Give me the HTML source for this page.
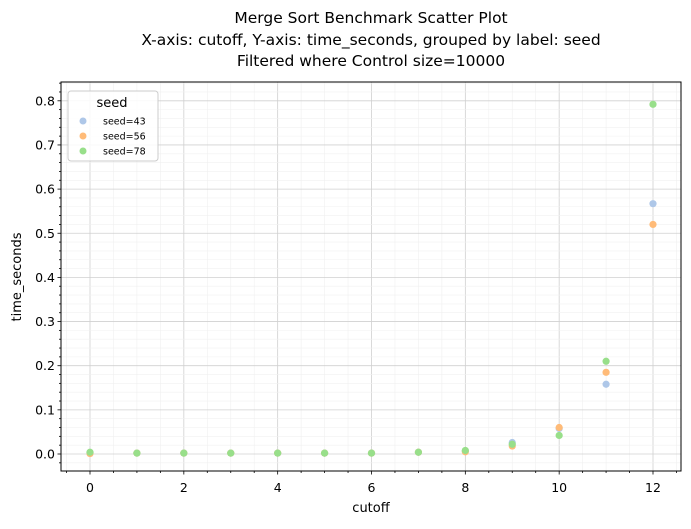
<!DOCTYPE html>
<html><head><meta charset="utf-8"><style>
body{margin:0;background:#fff;font-family:"Liberation Sans","DejaVu Sans",sans-serif;}
svg text{font-family:"DejaVu Sans","Liberation Sans",sans-serif;}
</style></head><body>
<svg id="c" width="691" height="524" xmlns="http://www.w3.org/2000/svg">
<g font-size="15.5" text-anchor="middle" fill="#000">
<text x="371" y="23">Merge Sort Benchmark Scatter Plot</text>
<text x="371" y="45">X-axis: cutoff, Y-axis: time_seconds, grouped by label: seed</text>
<text x="371" y="66">Filtered where Control size=10000</text>
</g>
<g id="grid"></g><g id="ticks"></g><g id="pts"></g>
<rect x="61" y="82" width="620" height="389" fill="none" stroke="#000" stroke-width="1"/>
<text x="371" y="512" font-size="13" text-anchor="middle">cutoff</text>
<text x="21" y="277" font-size="13" text-anchor="middle" transform="rotate(-90 21 277)">time_seconds</text>
<g>
<rect x="68" y="91" width="90" height="70" rx="3" fill="#fff" fill-opacity="0.85" stroke="#ccc"/>
<text x="112" y="107" font-size="13" text-anchor="middle">seed</text>
<circle cx="83" cy="121" r="3.5" fill="#aec7e8"/><text x="103" y="124.5" font-size="9.5">seed=43</text>
<circle cx="83" cy="136" r="3.5" fill="#ffbb78"/><text x="103" y="139.5" font-size="9.5">seed=56</text>
<circle cx="83" cy="151" r="3.5" fill="#98df8a"/><text x="103" y="154.5" font-size="9.5">seed=78</text>
</g>
</svg>
<script>
const cutoffs=[0,1,2,3,4,5,6,7,8,9,10,11,12];
const seed43=[0.003,0.002,0.002,0.002,0.002,0.002,0.002,0.004,0.007,0.026,0.058,0.158,0.567];
const seed56=[0.001,0.002,0.002,0.002,0.002,0.002,0.002,0.004,0.005,0.018,0.060,0.185,0.520];
const seed78=[0.004,0.002,0.002,0.002,0.002,0.002,0.002,0.004,0.008,0.022,0.042,0.210,0.792];
const xTicks=[0,2,4,6,8,10,12];
const yTicks=[0,0.1,0.2,0.3,0.4,0.5,0.6,0.7,0.8];
const NS="http://www.w3.org/2000/svg";
const L=61,R=681,T=82,B=471;
const x=v=>90+v*(653-90)/12;
const y=v=>454-v*441.5;
function mk(p,tag,a){const e=document.createElementNS(NS,tag);for(const k in a)e.setAttribute(k,a[k]);document.getElementById(p).appendChild(e);return e;}
for(let v=-0.5;v<=12.6;v+=0.5){const X=x(v);if(X<L||X>R)continue;
 const major=Math.abs(v/2-Math.round(v/2))<1e-6;
 const g=mk('grid','line',{x1:X,x2:X,y1:T,y2:B,stroke:major?'#d0d0d0':'#f0f0f0','stroke-width':major?0.8:0.6});
 
 const t=mk('ticks','line',{x1:X,x2:X,y1:B,y2:B+(major?3.5:2),stroke:'#000','stroke-width':0.8});
 }
for(let i=-2;i<=42;i++){const v=i*0.02,Y=y(v);if(Y<T||Y>B)continue;const major=i%5===0;
 const g=mk('grid','line',{x1:L,x2:R,y1:Y,y2:Y,stroke:major?'#d0d0d0':'#f0f0f0','stroke-width':major?0.8:0.6});
 
 const t=mk('ticks','line',{x1:L-(major?3.5:2),x2:L,y1:Y,y2:Y,stroke:'#000','stroke-width':0.8});
 }
xTicks.forEach(v=>{const t=mk('ticks','text',{x:x(v),y:492,'font-size':12.5,'text-anchor':'middle'});t.textContent=v;
 });
yTicks.forEach(v=>{const t=mk('ticks','text',{x:L-6,y:y(v)+4.5,'font-size':12.5,'text-anchor':'end'});t.textContent=v.toFixed(1);
 });
[[seed43,'#aec7e8','seed-43'],[seed56,'#ffbb78','seed-56'],[seed78,'#98df8a','seed-78']].forEach(([s,c,n])=>{
 s.forEach((v,i)=>{const p=mk('pts','circle',{cx:x(cutoffs[i]),cy:y(v),r:3.6,fill:c});
 });});
</script>
</body></html>
